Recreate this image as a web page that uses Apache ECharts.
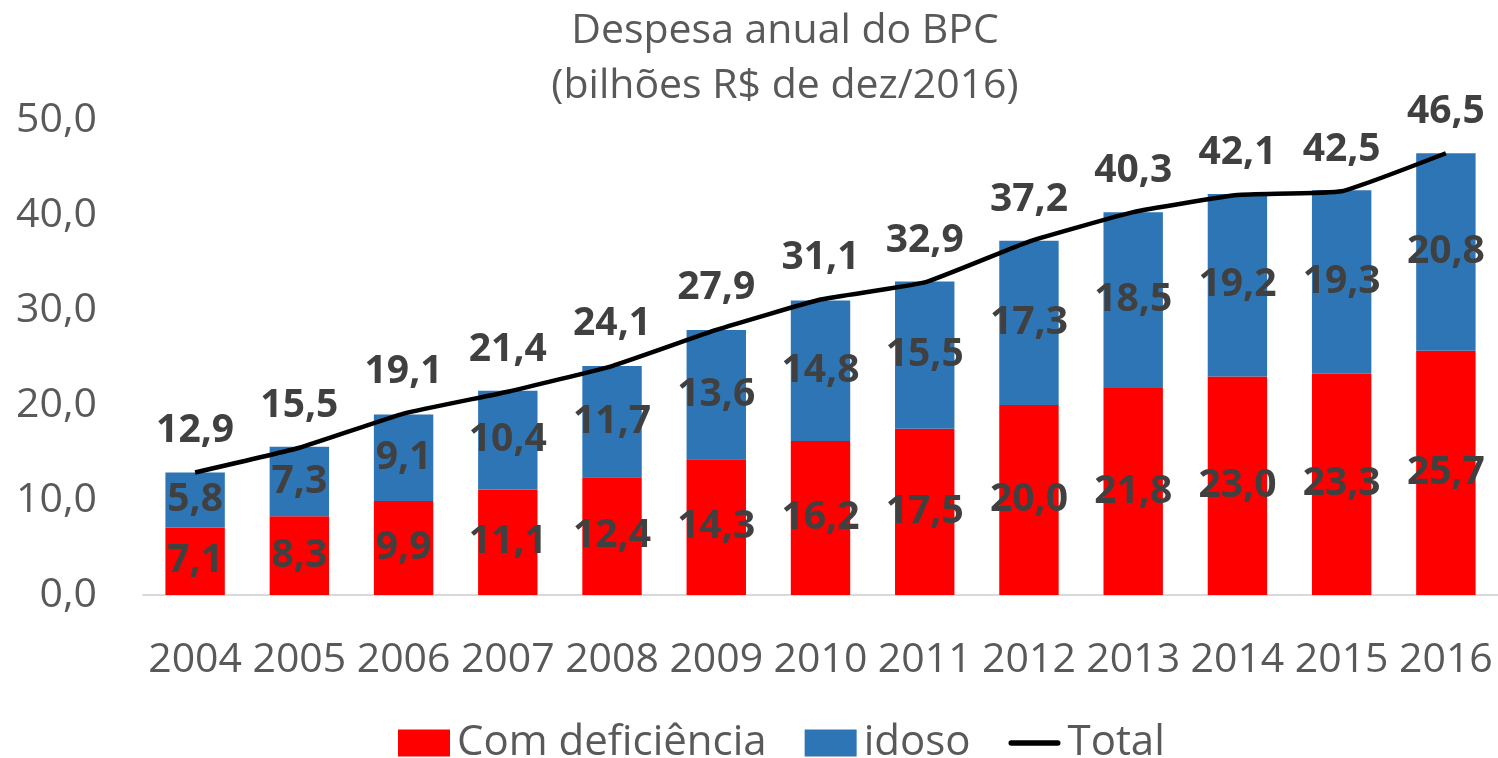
<!DOCTYPE html>
<html>
<head>
<meta charset="utf-8">
<script src="https://cdn.jsdelivr.net/npm/echarts@6/dist/echarts.min.js"></script>
<style>
  html, body { margin: 0; padding: 0; background: #fff; }
  #chart { width: 1498px; height: 758px; }
</style>
</head>
<body>
<div id="chart"></div>
<script>
const years = ["2004", "2005", "2006", "2007", "2008", "2009", "2010", "2011", "2012", "2013", "2014", "2015", "2016"];
const deficiencia = [7.1, 8.3, 9.9, 11.1, 12.4, 14.3, 16.2, 17.5, 20.0, 21.8, 23.0, 23.3, 25.7];
const idoso = [5.8, 7.3, 9.1, 10.4, 11.7, 13.6, 14.8, 15.5, 17.3, 18.5, 19.2, 19.3, 20.8];
const total = [12.9, 15.5, 19.1, 21.4, 24.1, 27.9, 31.1, 32.9, 37.2, 40.3, 42.1, 42.5, 46.5];

const FONT = "'Open Sans', sans-serif";
const fmt = (v) => Number(v).toFixed(1).replace(".", ",");

const chart = echarts.init(document.getElementById("chart"));

const barLabel = {
  show: true,
  position: "inside",
  color: "#404040",
  fontFamily: FONT,
  fontWeight: "bold",
  fontSize: 39,
  formatter: (p) => fmt(p.value),
};

const option = {
  animation: false,
  title: {
    text: "Despesa anual do BPC\n(bilhões R$ de dez/2016)",
    left: 780,
    textAlign: "center",
    top: -1,
    textStyle: {
      color: "#595959",
      fontFamily: FONT,
      fontWeight: "normal",
      fontSize: 41,
      lineHeight: 55,
    },
  },
  grid: {
    left: 143,
    right: 0,
    top: 120,
    bottom: 163,
    containLabel: false,
  },
  legend: {
    left: 398,
    top: 722,
    padding: 0,
    itemWidth: 52,
    itemHeight: 27,
    itemGap: 38,
    textStyle: {
      color: "#595959",
      fontFamily: FONT,
      fontSize: 42,
      lineHeight: 27,
      padding: [0, 0, 12, 2],
    },
    data: [
      { name: "Com deficiência", icon: "rect" },
      { name: "idoso", icon: "rect" },
      {
        name: "Total",
        icon: "path://M3,0 L53,0 A3,3 0 0 1 53,6 L3,6 A3,3 0 0 1 3,0 Z",
        itemStyle: { color: "#000000", opacity: 1 },
      },
    ],
  },
  xAxis: {
    type: "category",
    data: years,
    axisLine: { lineStyle: { color: "#D9D9D9", width: 2 } },
    axisTick: { show: false },
    axisLabel: {
      interval: 0,
      color: "#595959",
      fontFamily: FONT,
      fontSize: 41,
      margin: 45,
    },
  },
  yAxis: {
    type: "value",
    min: 0,
    max: 50,
    interval: 10,
    splitLine: { show: false },
    axisLine: { show: false },
    axisTick: { show: false },
    axisLabel: {
      color: "#595959",
      fontFamily: FONT,
      fontSize: 41,
      margin: 46,
      formatter: (v) => fmt(v),
    },
  },
  series: [
    {
      name: "Com deficiência",
      type: "bar",
      stack: "bpc",
      barWidth: "57%",
      data: deficiencia,
      itemStyle: { color: "#FF0000" },
      label: barLabel,
    },
    {
      name: "idoso",
      type: "bar",
      stack: "bpc",
      data: idoso,
      itemStyle: { color: "#2E75B6" },
      label: barLabel,
    },
    {
      name: "Total",
      type: "line",
      data: total,
      smooth: 0.12,
      symbol: "circle",
      symbolSize: 0.5,
      showSymbol: true,
      lineStyle: { color: "#000000", width: 4.5 },
      itemStyle: { color: "#000000" },
      label: {
        show: true,
        position: "top",
        distance: 22,
        color: "#404040",
        fontFamily: FONT,
        fontWeight: "bold",
        fontSize: 39,
        formatter: (p) => fmt(p.value),
      },
      z: 5,
    },
  ],
};

chart.setOption(option);

window.onresize = function () {
  chart.resize();
};
</script>
</body>
</html>
